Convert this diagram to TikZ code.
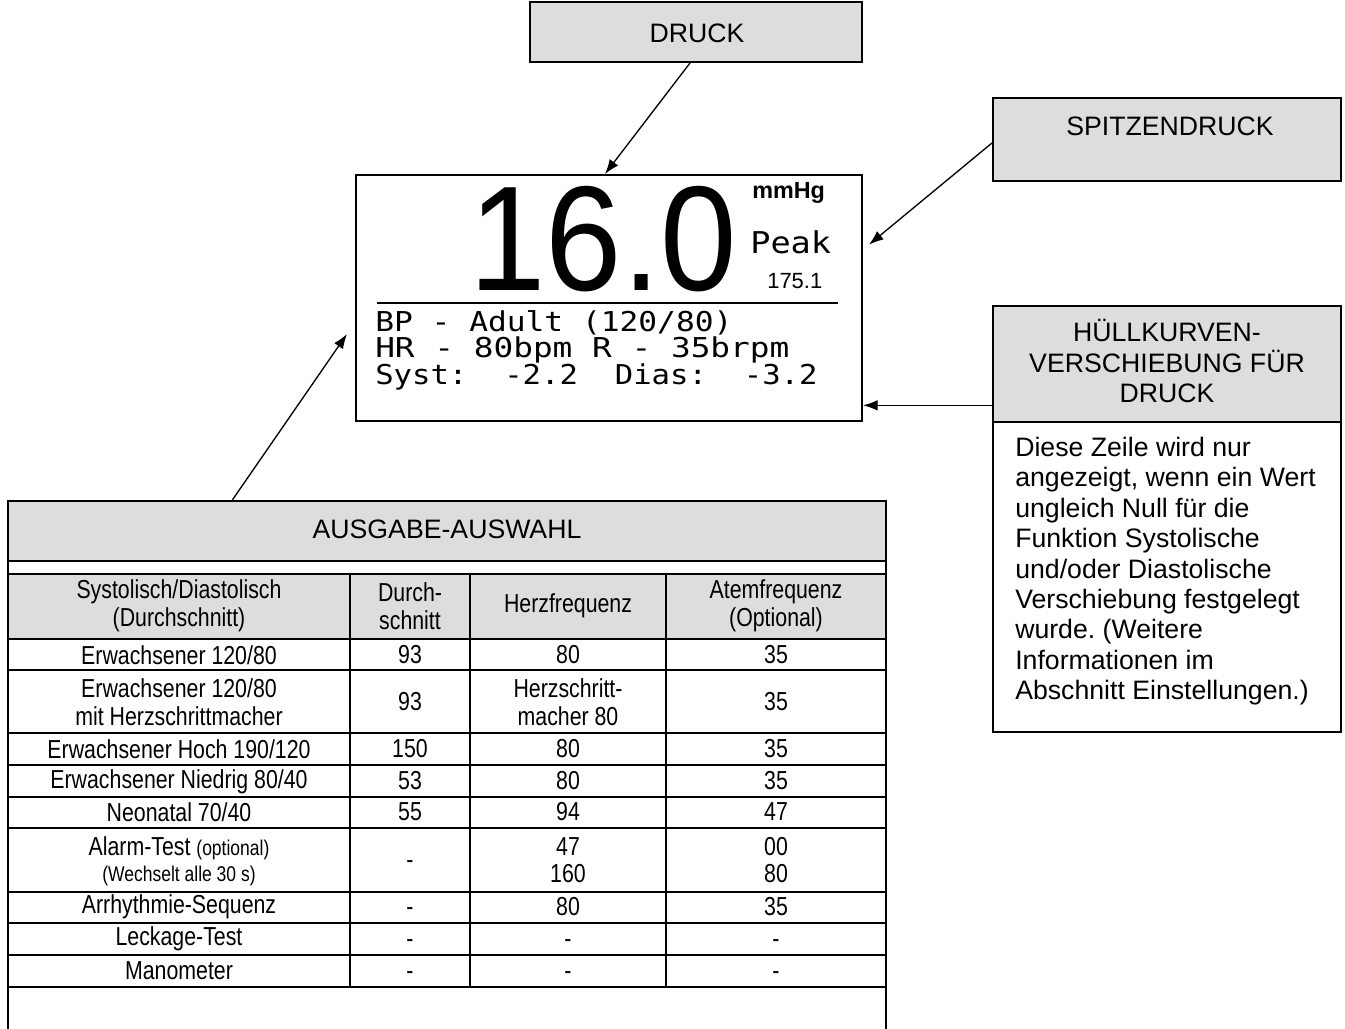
\documentclass[tikz,border=0pt]{standalone}
\usepackage{fontspec}
\usepackage{graphicx}
\setmainfont{Liberation Sans}
\newfontfamily\narrowfont[FakeStretch=0.82]{Liberation Sans}
\newfontfamily\lcdfont[FakeStretch=1.12]{DejaVu Sans Mono}
\newfontfamily\bigdigits[FakeStretch=0.92]{Liberation Sans}
\usetikzlibrary{arrows.meta,fit,calc}
\definecolor{boxgray}{HTML}{DDDDDD}
\newcommand{\mkcell}[4]{\node[tcell] (#1) at (#2,#3) {#4};}
\newcommand{\nodash}{\vphantom{0}-}
\frenchspacing
\begin{document}
\begin{tikzpicture}[x=0.75pt,y=-0.75pt,
  frame/.style={draw=black, line width=1.5pt, inner sep=0pt, fit={#1}},
  graybox/.style={fill=boxgray},
  arr/.style={line width=1pt, -{Latex[length=11pt,width=8pt]}},
  txt/.style={inner sep=0pt, font=\fontsize{20pt}{22.8pt}\selectfont},
  tcell/.style={inner sep=0pt, align=center, font=\narrowfont\fontsize{19.5pt}{21pt}\selectfont},
  lcd/.style={inner sep=0pt, anchor=base west, font=\lcdfont\fontsize{20.5pt}{22pt}\selectfont},
  grid/.style={line width=2pt}
]
\clip (0,0) rectangle (1345,1028);

% ---- DRUCK box
\node[frame={(530,2)(862,62)}, graybox] (druck) {};
\node[txt] (druckt) at (697,33) {DRUCK};

% ---- display
\node[frame={(356,175)(862,421)}, fill=white] (disp) {};
\draw[line width=2.2pt] (377,303) -- (838,303);
\node[anchor=base, inner sep=0pt, font=\bigdigits\fontsize{112pt}{112pt}\selectfont] (val) at (603,290) {16.0};
\node[anchor=base west, inner sep=0pt, font=\bfseries\fontsize{17.5pt}{18pt}\selectfont] (unit) at (752,198) {mmHg};
\node[anchor=base west, inner sep=0pt, font=\lcdfont\fontsize{22.5pt}{24pt}\selectfont] (peak) at (750,253) {Peak};
\node[anchor=base west, inner sep=0pt, font=\fontsize{16.5pt}{17pt}\selectfont] (peakv) at (767,288) {175.1};
\node[lcd] (l1) at (375,331) {\scalebox{1.02}[1]{BP - Adult (120/80)}};
\node[lcd] (l2) at (375,357) {\scalebox{1.07}[1]{HR - 80bpm R - 35brpm}};
\node[lcd] (l3) at (375,384) {Syst:\ \ -2.2\ \ Dias:\ \ -3.2};

% ---- SPITZENDRUCK
\node[frame={(993,98)(1341,181)}, graybox] (spitz) {};
\node[txt] (spitzt) at (1170,126) {SPITZENDRUCK};

% ---- HUELLKURVEN
\node[frame={(993,306)(1341,422)}, graybox] (hk) {};
\node[txt, align=center] (hkt) at (1167,361) {HÜLLKURVEN-\\VERSCHIEBUNG FÜR\\DRUCK};
\node[frame={(993,422)(1341,732)}] (hkbody) {};
\node[txt, align=left, anchor=north west] (hkbt) at (1015,437) {Diese Zeile wird nur\\
angezeigt, wenn ein Wert\\
ungleich Null für die\\
Funktion Systolische\\
und/oder Diastolische\\
Verschiebung festgelegt\\
wurde. (Weitere\\
Informationen im\\
Abschnitt Einstellungen.)};

% ---- AUSGABE-AUSWAHL
\node[frame={(8,501)(886,1060)}] (aus) {};
\node[frame={(8,501)(886,561)}, graybox] (aushead) {};
\node[txt] (aust) at (447,529) {AUSGABE-AUSWAHL};

\fill[boxgray] (8,574) rectangle (886,639);
\foreach \yy in {574,639,670,733,765,797,828,892,923,955,987}
  \draw[grid] (7,\yy) -- (887,\yy);
\foreach \xx in {8,350,470,666,886}
  \draw[grid] (\xx,574) -- (\xx,987);

\mkcell{h1}{179}{606}{Systolisch/Diastolisch\\(Durchschnitt)}
\mkcell{h2}{410}{606}{Durch-\\schnitt}
\mkcell{h3}{568}{606}{Herzfrequenz}
\mkcell{h4}{776}{606}{Atemfrequenz\\(Optional)}

\mkcell{a1}{179}{655}{Erwachsener 120/80}
\mkcell{a2}{410}{655}{93}
\mkcell{a3}{568}{655}{80}
\mkcell{a4}{776}{655}{35}

\mkcell{b1}{179}{702}{Erwachsener 120/80\\mit Herzschrittmacher}
\mkcell{b2}{410}{702}{93}
\mkcell{b3}{568}{702}{Herzschritt-\\macher 80}
\mkcell{b4}{776}{702}{35}

\mkcell{c1}{179}{749}{Erwachsener Hoch 190/120}
\mkcell{c2}{410}{749}{150}
\mkcell{c3}{568}{749}{80}
\mkcell{c4}{776}{749}{35}

\mkcell{d1}{179}{782}{Erwachsener Niedrig 80/40}
\mkcell{d2}{410}{781}{53}
\mkcell{d3}{568}{781}{80}
\mkcell{d4}{776}{781}{35}

\mkcell{e1}{179}{812}{Neonatal 70/40}
\mkcell{e2}{410}{812}{55}
\mkcell{e3}{568}{812}{94}
\mkcell{e4}{776}{812}{47}

\node[tcell, font=\narrowfont\fontsize{19.5pt}{19.5pt}\selectfont] (f1) at (179,861) {Alarm-Test {\fontsize{16pt}{19.5pt}\selectfont (optional)}\\{\fontsize{16pt}{19.5pt}\selectfont (Wechselt alle 30 s)}};
\mkcell{f2}{410}{860}{\nodash}
\node[tcell, font=\narrowfont\fontsize{19.5pt}{20pt}\selectfont] (f3) at (568,860) {47\\160};
\node[tcell, font=\narrowfont\fontsize{19.5pt}{20pt}\selectfont] (f4) at (776,860) {00\\80};

\mkcell{g1}{179}{907}{Arrhythmie-Sequenz}
\mkcell{g2}{410}{907}{\nodash}
\mkcell{g3}{568}{907}{80}
\mkcell{g4}{776}{907}{35}

\mkcell{i1}{179}{939}{Leckage-Test}
\mkcell{i2}{410}{939}{\nodash}
\mkcell{i3}{568}{939}{\nodash}
\mkcell{i4}{776}{939}{\nodash}

\mkcell{j1}{179}{971}{Manometer}
\mkcell{j2}{410}{971}{\nodash}
\mkcell{j3}{568}{971}{\nodash}
\mkcell{j4}{776}{971}{\nodash}

% ---- connectors
\draw[arr] ([xshift=-4.5pt]druck.south) -- ([xshift=-3pt]disp.north);
\draw[arr] ([yshift=-2.6pt]spitz.west) -- ([xshift=4.5pt,yshift=40pt]disp.east);
\draw[arr] ([yshift=-31pt]hk.west) -- ([yshift=-31pt]hk.west -| disp.east);
\draw[arr] ([xshift=169pt]aus.north west) -- ([xshift=-6pt,yshift=-27pt]disp.west);
\end{tikzpicture}
\end{document}
